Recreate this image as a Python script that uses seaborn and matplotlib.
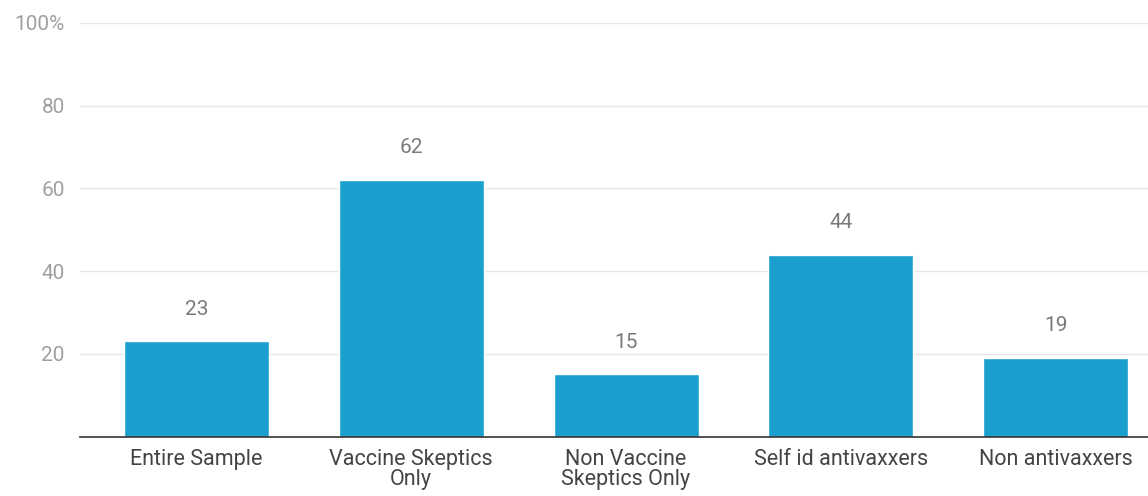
import numpy as np
import pandas as pd
import matplotlib
matplotlib.use("Agg")
import matplotlib.pyplot as plt
import seaborn as sns

categories = ["Entire Sample", "Vaccine Skeptics\nOnly", "Non Vaccine\nSkeptics Only",
              "Self id antivaxxers", "Non antivaxxers"]
values = [23, 62, 15, 44, 19]
ytick_values = [20, 40, 60, 80, 100]
ytick_labels = ["20", "40", "60", "80", "100%"]

sns.set_style("white")
plt.rcParams['font.family'] = ['Roboto', 'DejaVu Sans']

df = pd.DataFrame({"group": categories, "pct": values})

fig = plt.figure(figsize=(11.48, 4.96), dpi=100)
ax = fig.add_axes([80 / 1148, 1 - 436.5 / 496, 1 - 80 / 1148, (436.5 - 23) / 496])

sns.barplot(data=df, x="group", y="pct", color="#1a9fcf", saturation=1,
            width=0.675, ax=ax, zorder=3)

for i, v in enumerate(values):
    ax.text(i, v + 5.5, str(v), ha="center", va="bottom", fontsize=15, color="#7a7a7a")

ax.set_ylim(0, 100)
ax.set_xlim(-0.542, 4.43)
ax.set_yticks(ytick_values)
ax.set_yticklabels(ytick_labels)
ax.tick_params(axis="y", length=0, pad=11, labelsize=15, labelcolor="#a0a0a0")
ax.tick_params(axis="x", length=0, pad=9, labelsize=15.5, labelcolor="#444444")
for lbl in ax.get_xticklabels():
    lbl.set_linespacing(0.95)
ax.grid(axis="y", color="#e6e6e6", linewidth=1, zorder=0)
ax.set_xlabel("")
ax.set_ylabel("")
for s in ["top", "right", "left"]:
    ax.spines[s].set_visible(False)
ax.spines["bottom"].set_color("#333333")
ax.spines["bottom"].set_linewidth(1.2)
ax.spines["bottom"].set_zorder(5)

fig.savefig("out.png", dpi=100)
